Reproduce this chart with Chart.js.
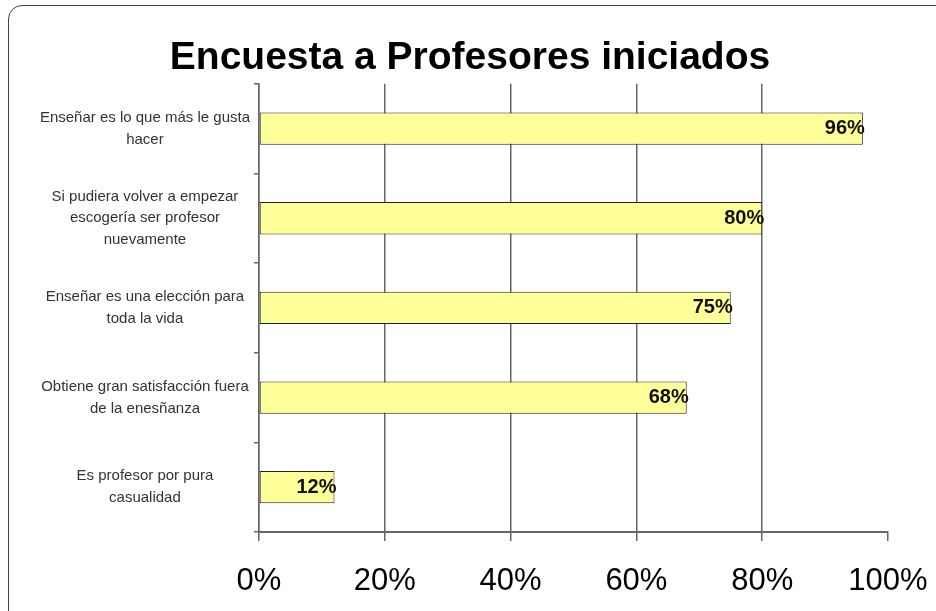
<!DOCTYPE html>
<html>
<head>
<meta charset="utf-8">
<script src="https://cdn.jsdelivr.net/npm/chart.js@4"></script>
<style>
  body { margin: 0; background: #fff; overflow: hidden; }
  #wrap { position: relative; width: 936px; height: 611px; }
  #frame {
    position: absolute; left: 8px; top: 5px; width: 960px; height: 640px;
    border: 1.5px solid #444; border-radius: 14px; pointer-events: none;
  }
</style>
</head>
<body>
<div id="wrap">
  <canvas id="chart" width="936" height="611"></canvas>
  <div id="frame"></div>
</div>
<script>
// chart data
const categories = [
    ['Enseñar es lo que más le gusta', 'hacer'],
    ['Si pudiera volver a empezar', 'escogería ser profesor', 'nuevamente'],
    ['Enseñar es una elección para', 'toda la vida'],
    ['Obtiene gran satisfacción fuera', 'de la enesñanza'],
    ['Es profesor por pura', 'casualidad']
];
const percentages = [96, 80, 75, 68, 12];
const xTicks = [0, 20, 40, 60, 80, 100];

// value labels at the end of each bar
const barLabels = {
    id: 'barLabels',
    afterDatasetsDraw(chart) {
        const ctx = chart.ctx;
        const meta = chart.getDatasetMeta(0);
        ctx.save();
        ctx.font = 'bold 20px "Liberation Sans", Arial, sans-serif';
        ctx.fillStyle = '#111';
        ctx.textAlign = 'right';
        ctx.textBaseline = 'middle';
        meta.data.forEach(function(bar, i) {
            ctx.fillText(percentages[i] + '%', bar.x + 2, bar.y);
        });
        ctx.restore();
    }
};

// the title sits a bit right of the canvas centre
const shiftTitle = {
    id: 'shiftTitle',
    afterLayout(chart) {
        const t = chart.titleBlock;
        if (t) { t.left += 26; t.right += 26; }
    }
};

const ctx = document.getElementById('chart').getContext('2d');
new Chart(ctx, {
    type: 'bar',
    data: {
        labels: categories,
        datasets: [{
            data: percentages,
            backgroundColor: '#FFFF99',
            borderColor: '#222',
            borderWidth: 1,
            borderSkipped: false,
            barPercentage: 0.36,
            categoryPercentage: 1
        }]
    },
    options: {
        indexAxis: 'y',
        responsive: false,
        animation: false,
        layout: { padding: { left: 0, right: 48, top: 0, bottom: 0 } },
        plugins: {
            legend: { display: false },
            tooltip: { enabled: false },
            title: {
                display: true,
                text: 'Encuesta a Profesores iniciados',
                color: '#000',
                font: { family: '"Liberation Sans", Arial, sans-serif', size: 39, weight: 'bold' },
                padding: { top: 35, bottom: 2 }
            }
        },
        scales: {
            x: {
                min: 0,
                max: 100,
                afterBuildTicks: function(scale) {
                    scale.ticks = xTicks.map(v => ({ value: v }));
                },
                afterFit: function(scale) {
                    scale.height = 79;
                    scale.paddingLeft = 0;
                    scale.paddingRight = 0;
                },
                grid: {
                    color: c => (c.tick && c.tick.value === 100) ? 'rgba(0,0,0,0)' : '#666',
                    tickColor: '#666',
                    lineWidth: 1.5,
                    tickLength: 9
                },
                border: { color: '#666', width: 2 },
                ticks: {
                    padding: 22,
                    color: '#000',
                    font: { family: '"Liberation Sans", Arial, sans-serif', size: 31 },
                    callback: v => v + '%'
                }
            },
            y: {
                afterFit: function(scale) { scale.width = 259; },
                grid: {
                    drawOnChartArea: false,
                    offset: true,
                    color: '#666',
                    lineWidth: 1.5,
                    tickLength: 5
                },
                border: { color: '#666', width: 1.5 },
                ticks: {
                    crossAlign: 'center',
                    padding: 4,
                    color: '#333',
                    font: { family: '"Liberation Sans", Arial, sans-serif', size: 15, lineHeight: 1.45 }
                }
            }
        }
    },
    plugins: [barLabels, shiftTitle]
});
</script>
</body>
</html>
